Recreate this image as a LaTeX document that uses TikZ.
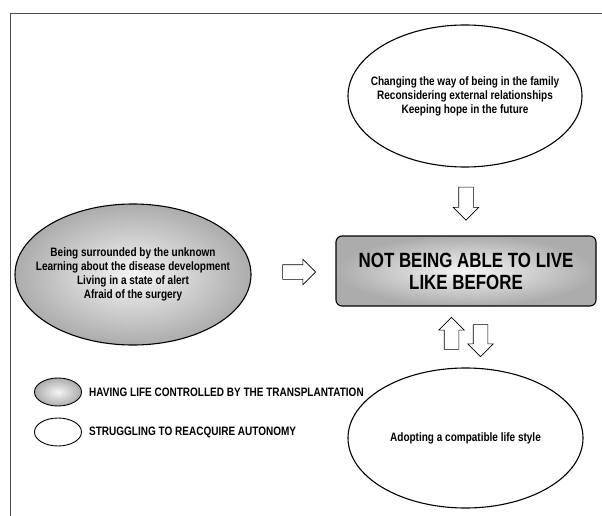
\documentclass[tikz,border=0pt]{standalone}
\usepackage{fontspec}
\setmainfont{Liberation Sans}[FakeStretch=0.82]
\usetikzlibrary{shapes.geometric,shapes.arrows}

\begin{document}
\begin{tikzpicture}[x=1pt,y=-1pt,
    phase/.style={ellipse,draw,line width=1.1pt,inner sep=0pt},
    shaded phase/.style={phase,inner color=gray!8,outer color=gray!65},
    phase text/.style={align=center,inner sep=0pt,font=\bfseries\fontsize{12.2}{14}\selectfont},
    hollow/.style={single arrow,draw,line width=0.6pt,fill=white,inner sep=7pt,
      minimum height=33pt,single arrow head extend=5.5pt},
    key/.style={anchor=west,inner sep=0pt,font=\bfseries\fontsize{12.2}{14}\selectfont}]

    \useasboundingbox (0,0) rectangle (602,516);

    % Marco
    \draw[gray!60!black,line width=0.9pt] (602,13) -- (10,13) -- (10,516);

    % Fases
    \node[phase,minimum width=234pt,minimum height=142pt] (family) at (465,96) {};
    \node[phase text] (family text) at (family.center)
      {Changing the way of being in the family\\Reconsidering external relationships\\Keeping hope in the future};
    \node[draw,line width=1.1pt,rounded corners=6pt,minimum width=260pt,minimum height=70pt,
      inner color=gray!8,outer color=gray!65,align=center,
      font=\bfseries\fontsize{20.6}{22}\selectfont] (before) at (466,271)
      {NOT BEING ABLE TO LIVE\\LIKE BEFORE};
    \node[shaded phase,minimum width=236pt,minimum height=141pt] (unknown) at (133,274.5) {};
    \node[phase text] (unknown text) at (unknown.center)
      {Being surrounded by the unknown\\Learning about the disease development\\Living in a state of alert\\Afraid of the surgery};
    \node[phase,minimum width=235pt,minimum height=140pt] (style) at (465.5,438) {};
    \node[phase text] (style text) at (style.center) {Adopting a compatible life style};

    % Flechas huecas
    \node[hollow,shape border rotate=270] (a1) at (466,200) {};
    \node[hollow] (a2) at (295.5,272) {};
    \node[hollow,shape border rotate=90,minimum height=32pt] (a3) at (451.5,337) {};
    \node[hollow,shape border rotate=270,minimum height=32pt] (a4) at (480.5,337) {};

    % Leyenda
    \node[shaded phase,minimum width=47pt,minimum height=28pt,line width=0.9pt] (k1) at (58,392) {};
    \node[phase,minimum width=47pt,minimum height=28pt,line width=0.9pt] (k2) at (58,432) {};
    \node[key] (t1) at (89,392) {HAVING LIFE CONTROLLED BY THE TRANSPLANTATION};
    \node[key] (t2) at (89,432) {STRUGGLING TO REACQUIRE AUTONOMY};

\end{tikzpicture}
\end{document}
